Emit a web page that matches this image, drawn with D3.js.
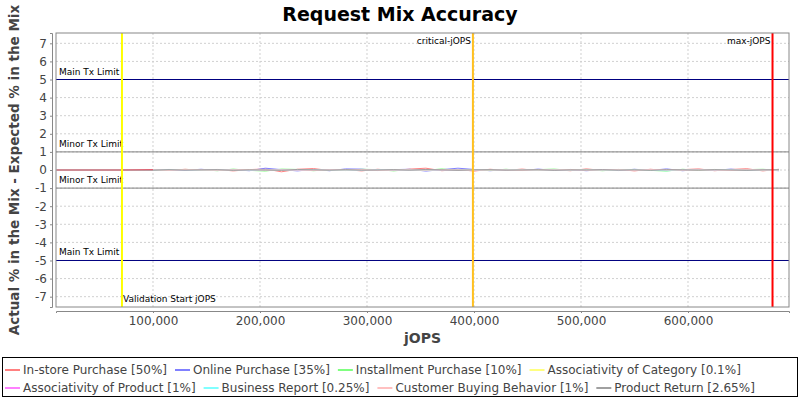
<!DOCTYPE html>
<html><head><meta charset="utf-8">
<script src="https://cdn.jsdelivr.net/npm/d3@7"></script>
<style>body{margin:0;background:#fff}svg{font-family:"DejaVu Sans",sans-serif}</style>
</head><body><svg id="chart" width="800" height="400"></svg>
<script>
const xs = [10000,40000,70000,100000,115000,130000,145000,160000,175000,190000,205000,220000,235000,250000,265000,280000,295000,310000,325000,340000,355000,370000,385000,400000,415000,430000,445000,460000,475000,490000,505000,520000,535000,550000,565000,580000,595000,610000,625000,640000,655000,670000,685000];
const seriesNames = ["In-store Purchase [50%]","Online Purchase [35%]","Installment Purchase [10%]","Associativity of Category [0.1%]","Associativity of Product [1%]","Business Report [0.25%]","Customer Buying Behavior [1%]","Product Return [2.65%]"];
const seriesColors = ["#ff8080","#8080ff","#80ff80","#ffff80","#ff80ff","#80ffff","#ffc0c0","#a0a0a0"];
const inStore = [0,0,0,0.02,-0.03,0.04,-0.02,0.03,-0.05,0.02,0.06,-0.1,0.04,0.08,-0.03,0.02,-0.05,0.04,-0.03,0.05,0.1,-0.04,0.03,-0.06,0.04,-0.02,0.05,-0.03,0.02,-0.04,0.06,-0.02,0.03,-0.05,0.04,-0.03,0.02,0.06,-0.04,0.03,0.07,-0.05,0.04];
const online = [0,0,0,-0.02,0.03,-0.02,0.04,-0.03,0.02,-0.04,0.1,0.02,-0.05,0.03,-0.04,0.06,0.05,-0.03,0.02,0.04,-0.06,0.02,0.1,0.03,-0.04,0.02,-0.03,0.05,-0.02,0.03,-0.04,0.02,-0.03,0.04,-0.02,0.06,-0.04,0.03,-0.02,0.05,-0.03,0.02,-0.04];
const installment = [0,0,0,0.01,-0.02,0.03,0.02,-0.04,0.05,-0.02,-0.06,0.05,0.03,-0.04,0.02,-0.03,0.04,0.02,-0.05,0.03,-0.02,0.06,-0.03,0.02,-0.02,0.04,-0.03,0.02,0.05,-0.02,0.03,-0.04,0.02,0.03,-0.02,-0.06,0.04,-0.02,0.03,-0.03,0.02,0.04,-0.02];
const category = xs.map(() => 0);
const product = [0,0,0,0.01,0,-0.01,0.01,0,0.01,-0.01,0,0.01,0,-0.01,0.01,0,0,0.01,-0.01,0,0.01,0,-0.01,0,0.01,0,-0.01,0.01,0,0,-0.01,0.01,0,0,0.01,-0.01,0,0.01,0,-0.01,0,0.01,0];
const business = [0,0,0,0,0.01,0,-0.01,0,0.01,0,-0.01,0,0.01,0,0,-0.01,0,0.01,0,0,-0.01,0.01,0,0,0.01,0,-0.01,0,0,0.01,0,-0.01,0,0.01,0,-0.04,0,0.01,0,0,-0.01,0,0.01];
const buying = [0,0,0,0.01,-0.01,0.02,0,-0.01,0.01,0.02,-0.01,0,0.01,-0.02,0.01,0,0.02,-0.01,0,0.01,-0.01,0.02,0,-0.01,0.01,0,-0.02,0.01,0,0.02,-0.01,0,0.01,-0.01,0.02,0,-0.01,0.01,0,-0.02,0.01,0,0.01];
const productReturn = [0,0,0,-0.01,0.02,-0.01,0.01,0.02,-0.02,0.01,0,-0.02,0.03,0.01,-0.01,0.02,-0.01,0,0.02,-0.01,0.03,0.01,-0.02,0.01,0.02,-0.01,0,0.02,-0.02,0.01,0,0.02,-0.01,0.01,-0.02,0.02,0.01,-0.01,0.02,0,-0.02,0.01,0.02];
const allSeries = [inStore,online,installment,category,product,business,buying,productReturn];
const yTicks = [-7,-6,-5,-4,-3,-2,-1,0,1,2,3,4,5,6,7];
const xTicks = [100000,200000,300000,400000,500000,600000];
const hLines = [{v:5,c:"#000080",t:"Main Tx Limit"},{v:1,c:"#808080",t:"Minor Tx Limit"},{v:-1,c:"#808080",t:"Minor Tx Limit"},{v:-5,c:"#000080",t:"Main Tx Limit"}];
const vLines = [{v:71000,c:"#ffff00",t:"Validation Start jOPS",pos:"bottom"},{v:399000,c:"#ffc020",t:"critical-jOPS",pos:"top"},{v:679000,c:"#ff0000",t:"max-jOPS",pos:"top"}];

const svg = d3.select("#chart");
const L=56,R=789,T=33,B=307;
const x = d3.scaleLinear().domain([9350,694400]).range([L,R]);
const y = d3.scaleLinear().domain([-7.57,7.57]).range([B,T]);

svg.append("text").attr("x",400).attr("y",21).attr("text-anchor","middle").attr("font-size",19).attr("font-weight","bold").text("Request Mix Accuracy");
svg.append("rect").attr("x",L).attr("y",T).attr("width",R-L).attr("height",B-T).attr("fill","#fff");

// grid
svg.append("g").selectAll("line").data(yTicks).join("line").attr("x1",L).attr("x2",R).attr("y1",d=>y(d)).attr("y2",d=>y(d)).attr("stroke","#d0d0d0").attr("stroke-dasharray","2,2");
svg.append("g").selectAll("line").data(xTicks).join("line").attr("y1",T).attr("y2",B).attr("x1",d=>x(d)).attr("x2",d=>x(d)).attr("stroke","#d0d0d0").attr("stroke-dasharray","2,2");

// axes
const ya = svg.append("g").attr("transform",`translate(${L-4},0)`).call(d3.axisLeft(y).tickValues(yTicks).tickSize(2).tickFormat(d=>String(d)));
const xa = svg.append("g").attr("transform",`translate(0,${B+4})`).call(d3.axisBottom(x).tickValues(xTicks).tickSize(2).tickFormat(d3.format(",")));
[ya,xa].forEach(a=>{a.selectAll("text").attr("font-size",12).attr("fill","#444").attr("font-family","DejaVu Sans");a.selectAll("path,line").attr("stroke","#888");});

// threshold lines
hLines.forEach(h=>{
  svg.append("line").attr("x1",L).attr("x2",R).attr("y1",y(h.v)).attr("y2",y(h.v)).attr("stroke",h.c);
  svg.append("text").attr("x",L+3).attr("y",y(h.v)-5).attr("font-size",9).text(h.t);
});

// series
const line = d3.line().x((d,i)=>x(xs[i])).y(d=>y(d));
allSeries.forEach((s,i)=>{
  svg.append("path").datum(s).attr("d",line).attr("fill","none").attr("stroke",seriesColors[i]).attr("stroke-width",1);
});
svg.append("path").datum(inStore.slice(0,4)).attr("d",line).attr("fill","none").attr("stroke","#e06070").attr("stroke-width",1.2);

vLines.forEach(v=>{
  svg.append("line").attr("x1",x(v.v)).attr("x2",x(v.v)).attr("y1",T).attr("y2",B).attr("stroke",v.c).attr("stroke-width",2);
  if(v.pos==="bottom") svg.append("text").attr("x",x(v.v)+1).attr("y",B-5).attr("font-size",9).text(v.t);
  else svg.append("text").attr("x",x(v.v)-2).attr("y",T+11).attr("text-anchor","end").attr("font-size",9).text(v.t);
});

svg.append("rect").attr("x",L).attr("y",T).attr("width",R-L).attr("height",B-T).attr("fill","none").attr("stroke","#888");

svg.append("text").attr("x",(L+R)/2).attr("y",343).attr("text-anchor","middle").attr("font-size",14).attr("font-weight","bold").attr("fill","#444").text("jOPS");
svg.append("text").attr("transform",`translate(19,${(T+B)/2}) rotate(-90)`).attr("text-anchor","middle").attr("font-size",13.5).attr("font-weight","bold").attr("fill","#444").text("Actual % in the Mix - Expected % in the Mix");

// legend
svg.append("rect").attr("x",2.5).attr("y",357.5).attr("width",795).attr("height",39).attr("fill","#fff").attr("stroke","#000");
const rows=[[0,1,2,3],[4,5,6,7]];
rows.forEach((r,ri)=>{
  let cx=5; const cy=370+ri*18;
  r.forEach(i=>{
    svg.append("line").attr("x1",cx).attr("x2",cx+15).attr("y1",cy).attr("y2",cy).attr("stroke",seriesColors[i]).attr("stroke-width",2);
    const t=svg.append("text").attr("x",cx+18).attr("y",cy+4).attr("font-size",12).attr("fill","#444").text(seriesNames[i]);
    cx+=18+t.node().getComputedTextLength()+8;
  });
});
</script></body></html>
